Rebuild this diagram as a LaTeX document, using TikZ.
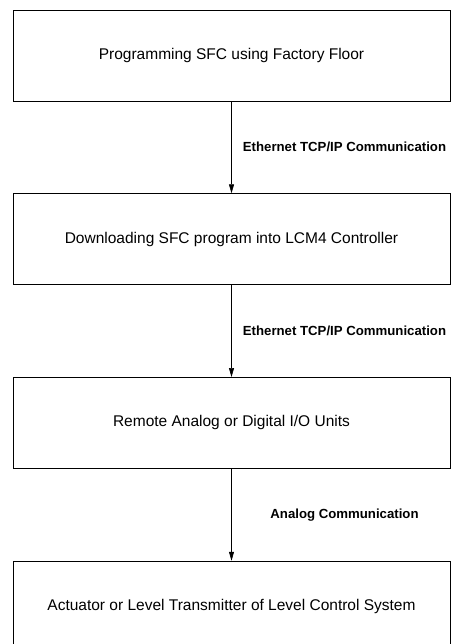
\documentclass[tikz,border=0pt]{standalone}
\usepackage{fontspec}
\setmainfont{Liberation Sans}
\usetikzlibrary{positioning,arrows.meta}

\begin{document}
\begin{tikzpicture}[x=1pt, y=1pt,
  every node/.style={font=\fontsize{15.5}{18}\selectfont},
  stage/.style={draw, line width=0.7pt, minimum width=437pt, minimum height=91pt, inner sep=0pt},
  link/.style={-{Triangle[length=9pt,width=5pt]}, line width=0.6pt},
  lab/.style={font=\fontsize{13.2}{15}\selectfont\bfseries}]
  \useasboundingbox (0,0) rectangle (451,-644);

  % Stages
  \node[stage] (prog) at (231.5,-55.5) {Programming SFC using Factory Floor};
  \node[stage, below=92pt of prog] (down) {Downloading SFC program into LCM4 Controller};
  \node[stage, below=92pt of down] (io) {Remote Analog or Digital I/O Units};
  \node[stage, below=92pt of io] (act) {Actuator or Level Transmitter of Level Control System};

  % Communication links
  \draw[link] (prog) -- (down) node[lab, midway, xshift=113pt] {Ethernet TCP/IP Communication};
  \draw[link] (down) -- (io) node[lab, midway, xshift=113pt] {Ethernet TCP/IP Communication};
  \draw[link] (io) -- (act) node[lab, midway, xshift=113pt] {Analog Communication};
\end{tikzpicture}
\end{document}
